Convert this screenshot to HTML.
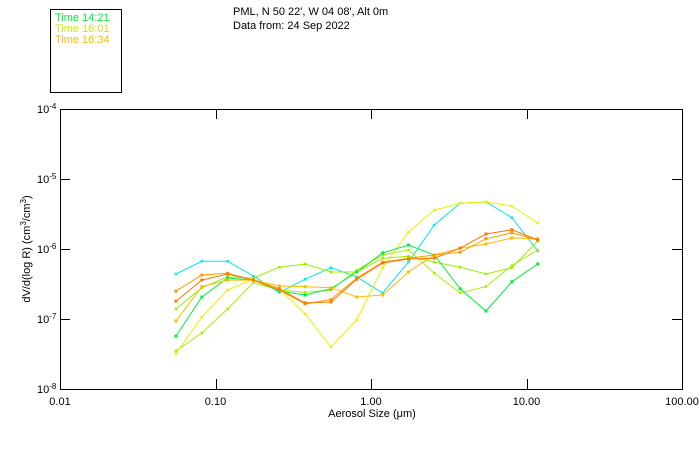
<!DOCTYPE html>
<html><head><meta charset="utf-8"><style>
body{margin:0;background:#fff;width:700px;height:450px;overflow:hidden;font-family:"Liberation Sans",sans-serif}
svg text{font-family:"Liberation Sans",sans-serif;font-size:11px;fill:#000}
</style></head><body>
<svg id="chart" width="700" height="450">
<g>
<rect x="50.5" y="9.5" width="71" height="83" fill="none" stroke="#000"/>
<text x="55" y="21" style="fill:#00ee40">Time 14:21</text>
<text x="55" y="32" style="fill:#ccee00">Time 16:01</text>
<text x="55" y="43" style="fill:#ffbb00">Time 16:34</text>
</g>
<text x="233" y="15">PML, N 50 22', W 04 08', Alt 0m</text>
<text x="233" y="29">Data from: 24 Sep 2022</text>
<rect x="60.5" y="109.5" width="622" height="280" fill="none" stroke="#000"/>
<g id="axes"></g>
<g id="series"></g>
<text transform="translate(30,249) rotate(-90)" text-anchor="middle">dV/d(log R) (cm<tspan dy="-4" font-size="8">3</tspan><tspan dy="4">/cm</tspan><tspan dy="-4" font-size="8">3</tspan><tspan dy="4">)</tspan></text>
<text x="372" y="417" text-anchor="middle">Aerosol Size (μm)</text>
</svg>
<script>
const sizes=[0.0557,0.0817,0.1197,0.1755,0.2573,0.3772,0.553,0.8107,1.189,1.743,2.555,3.746,5.49,8.05,11.8];
const xTicks=[0.01,0.1,1,10,100];
const xTickLabels=["0.01","0.10","1.00","10.00","100.00"];
const yTicks=[1e-4,1e-5,1e-6,1e-7,1e-8];
const yTickExps=["-4","-5","-6","-7","-8"];
const cyan=[4.4e-7,6.7e-7,6.7e-7,4.1e-7,2.4e-7,3.7e-7,5.4e-7,4.0e-7,2.35e-7,6.5e-7,2.2e-6,4.5e-6,4.7e-6,2.8e-6,9.4e-7];
const green=[5.7e-8,2.06e-7,3.85e-7,3.6e-7,2.5e-7,2.2e-7,2.7e-7,4.7e-7,8.8e-7,1.14e-6,8.2e-7,2.7e-7,1.3e-7,3.4e-7,6.1e-7];
const yellowGreenA=[1.39e-7,2.8e-7,4.0e-7,3.85e-7,5.5e-7,6.1e-7,4.7e-7,4.7e-7,7.4e-7,7.9e-7,6.5e-7,5.5e-7,4.4e-7,5.4e-7,1.3e-6];
const yellowGreenB=[3.5e-8,6.3e-8,1.39e-7,3.3e-7,2.6e-7,2.4e-7,2.6e-7,5.0e-7,8.2e-7,9.7e-7,4.5e-7,2.35e-7,2.9e-7,5.8e-7,9.7e-7];
const yellow=[3.2e-8,1.07e-7,2.6e-7,3.7e-7,2.7e-7,1.18e-7,4.0e-8,9.7e-8,5.4e-7,1.75e-6,3.6e-6,4.5e-6,4.7e-6,4.1e-6,2.35e-6];
const lightOrange=[9.4e-8,2.9e-7,3.6e-7,3.6e-7,2.96e-7,2.9e-7,2.8e-7,2.06e-7,2.2e-7,4.7e-7,8.2e-7,1.03e-6,1.18e-6,1.44e-6,1.4e-6];
const orange=[2.5e-7,4.25e-7,4.5e-7,3.6e-7,2.6e-7,1.64e-7,1.9e-7,3.85e-7,6.5e-7,7.4e-7,8.2e-7,9.0e-7,1.4e-6,1.7e-6,1.35e-6];
const darkOrange=[1.8e-7,3.6e-7,4.4e-7,3.6e-7,2.7e-7,1.7e-7,1.75e-7,3.7e-7,6.3e-7,7.2e-7,7.4e-7,1.03e-6,1.64e-6,1.88e-6,1.35e-6];

const NS="http://www.w3.org/2000/svg";
const X0=60,X1=682,Y0=109,Y1=389;
const xs=v=>X0+(Math.log10(v)+2)/4*(X1-X0);
const ys=v=>Y0+(-4-Math.log10(v))/4*(Y1-Y0);
function mk(tag,attrs,parent){const e=document.createElementNS(NS,tag);for(const k in attrs)e.setAttribute(k,attrs[k]);parent.appendChild(e);return e;}
const axes=document.getElementById('axes');
xTicks.forEach((t,i)=>{
  const x=Math.round(xs(t))+0.5;
  if(i>0&&i<xTicks.length-1){
    const a=mk('line',{x1:x,x2:x,y1:Y1,y2:Y1-10,stroke:'#000'},axes);
    
    
    const b=mk('line',{x1:x,x2:x,y1:Y0,y2:Y0+10,stroke:'#000'},axes);
    
    
  }
  const l=mk('text',{x:xs(t),y:405,'text-anchor':'middle'},axes);
  l.textContent=xTickLabels[i];
  
  
});
yTicks.forEach((t,i)=>{
  const y=Math.round(ys(t))+0.5;
  if(i>0&&i<yTicks.length-1){
    const a=mk('line',{x1:X0,x2:X0+10,y1:y,y2:y,stroke:'#000'},axes);
    
    
    const b=mk('line',{x1:X1-10,x2:X1,y1:y,y2:y,stroke:'#000'},axes);
    
    
  }
  const l=mk('text',{x:37,y:ys(t)+4,'text-anchor':'start'},axes);
  l.innerHTML='10<tspan dy="-4" font-size="8">'+yTickExps[i]+'</tspan>';
  
  
});
const seriesList=[
 ['cyan',cyan,'#00e8e8',2.5],['yellow-green-b',yellowGreenB,'#aaee00',2.5],['yellow',yellow,'#eeee00',2.5],
 ['yellow-green-a',yellowGreenA,'#99ee00',2.5],['green',green,'#00ee40',3],['light-orange',lightOrange,'#ffbb00',3],
 ['orange',orange,'#ff9900',3],['dark-orange',darkOrange,'#ff7700',3]];
const sg=document.getElementById('series');
seriesList.forEach(([name,vals,col,ms])=>{
  const g=mk('g',{},sg);
  
  
  const pts=vals.map((v,i)=>xs(sizes[i]).toFixed(1)+','+ys(v).toFixed(1)).join(' ');
  const pl=mk('polyline',{points:pts,fill:'none',stroke:col,'stroke-width':1},g);
  
  
  vals.forEach((v,i)=>{
    const r=mk('rect',{x:xs(sizes[i])-ms/2,y:ys(v)-ms/2,width:ms,height:ms,fill:col},g);
    
    
  });
});
</script>
</body></html>
